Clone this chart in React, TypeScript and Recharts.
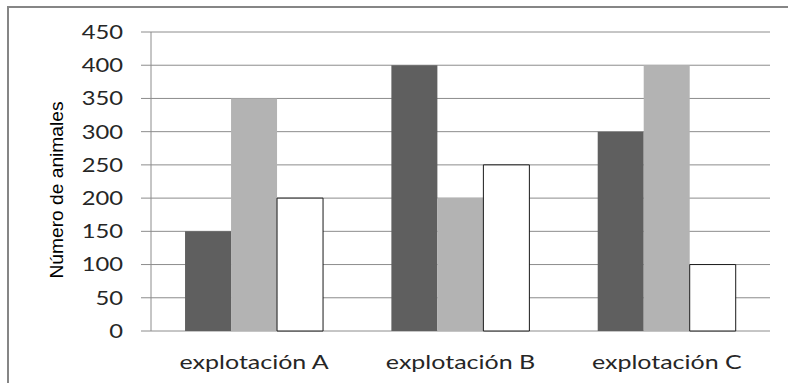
import React from 'react';
import { BarChart, Bar, XAxis, YAxis, CartesianGrid } from 'recharts';

const categories = ['explotación A', 'explotación B', 'explotación C'];
const serie1 = [150, 400, 300];
const serie2 = [350, 200, 400];
const serie3 = [200, 250, 100];
const yTicks = [0, 50, 100, 150, 200, 250, 300, 350, 400, 450];
const boundaryTicks = [0, 1, 2, 3];

const data = categories.map((name, i) => ({
  name,
  s1: serie1[i],
  s2: serie2[i],
  s3: serie3[i],
}));

const lineColor = '#8c8c8c';
const textColor = '#262626';

const YTick = (props: any) => {
  const { x, y, payload } = props;
  return (
    <text
      transform={`translate(${x},${y}) scale(1.25,1)`}
      textAnchor="end"
      dy="0.36em"
      fontFamily="Lato"
      fontSize={19}
      fill={textColor}
    >
      {payload.value}
    </text>
  );
};

const XTick = (props: any) => {
  const { x, y, payload } = props;
  return (
    <text
      transform={`translate(${x},${y + 38}) scale(1.25,1)`}
      textAnchor="middle"
      fontFamily="Lato"
      fontSize={20}
      fill={textColor}
    >
      {payload.value}
    </text>
  );
};

const YLabel = () => (
  <text
    x={56}
    y={190}
    transform="rotate(-90 56 190)"
    textAnchor="middle"
    dominantBaseline="central"
    fontFamily="'Liberation Sans', Arial, sans-serif"
    fontSize={19}
    textLength={177}
    lengthAdjust="spacingAndGlyphs"
    fill="#000"
  >
    Número de animales
  </text>
);

export default function App() {
  return (
    <div style={{ position: 'absolute', left: 0, top: 0, width: 788, height: 383, overflow: 'hidden', background: '#fff' }}>
      <div
        style={{
          position: 'absolute',
          left: 7,
          top: 6,
          width: 800,
          height: 400,
          borderLeft: '2px solid #868686',
          borderTop: '2px solid #868686',
        }}
      />
      <div style={{ position: 'absolute', left: 0, top: 0 }}>
        <BarChart
          width={788}
          height={383}
          data={data}
          margin={{ top: 32, right: 18, left: 0, bottom: 0 }}
          barCategoryGap="16.5%"
          barGap={0}
        >
          <CartesianGrid vertical={false} stroke={lineColor} xAxisId="cat" />
          <XAxis
            xAxisId="b"
            type="number"
            domain={[0, 3]}
            ticks={boundaryTicks}
            allowDataOverflow
            tick={false}
            tickSize={8}
            height={0}
            axisLine={{ stroke: lineColor }}
            tickLine={{ stroke: lineColor }}
          />
          <XAxis
            xAxisId="cat"
            dataKey="name"
            height={52}
            axisLine={false}
            tickLine={false}
            tickSize={0}
            tickMargin={0}
            tick={<XTick />}
            interval={0}
          />
          <YAxis
            width={151}
            domain={[0, 450]}
            ticks={yTicks}
            interval={0}
            tickSize={10}
            tickMargin={18}
            axisLine={{ stroke: lineColor }}
            tickLine={{ stroke: lineColor }}
            tick={<YTick />}
            label={<YLabel />}
          />
          <Bar xAxisId="cat" dataKey="s1" fill="#5f5f5f" isAnimationActive={false} />
          <Bar xAxisId="cat" dataKey="s2" fill="#b3b3b3" isAnimationActive={false} />
          <Bar xAxisId="cat" dataKey="s3" fill="#ffffff" stroke="#1a1a1a" strokeWidth={1} isAnimationActive={false} />
        </BarChart>
      </div>
    </div>
  );
}
